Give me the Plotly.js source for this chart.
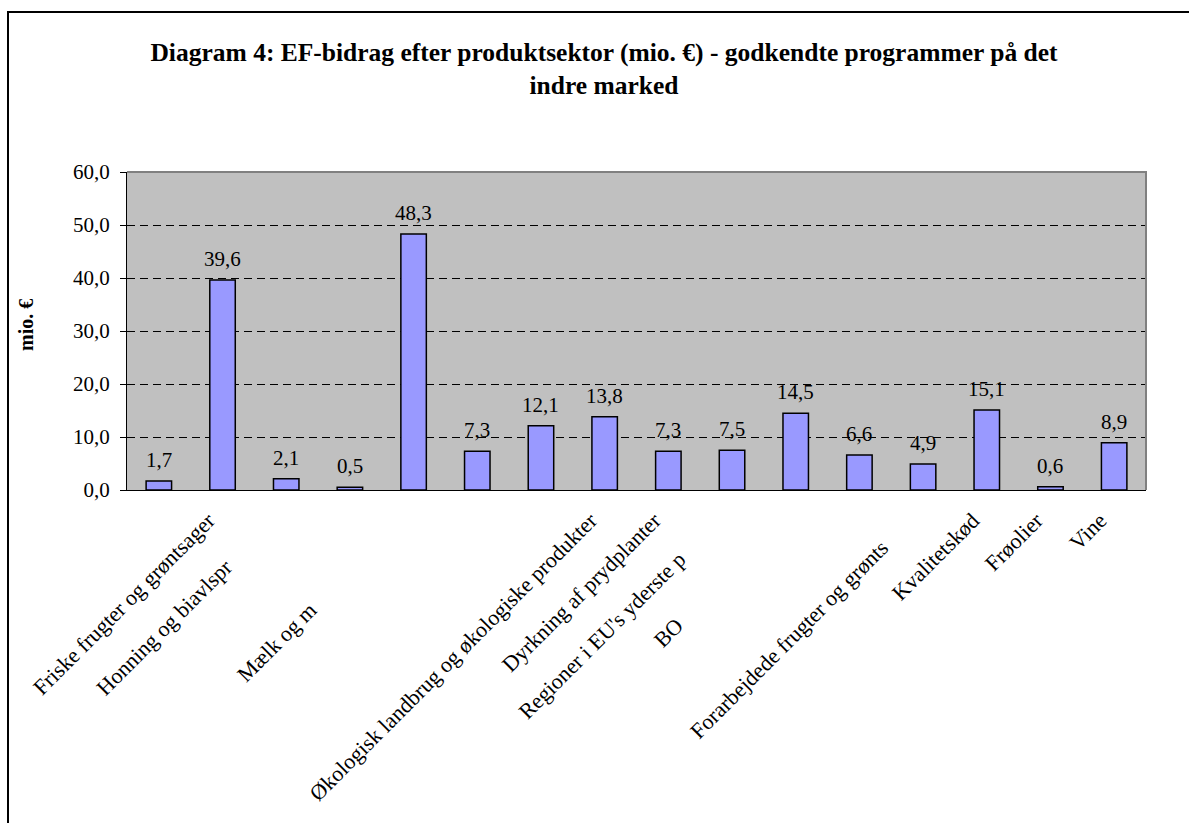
<!DOCTYPE html>
<html><head><meta charset="utf-8">
<script src="https://cdn.plot.ly/plotly-3.0.1.min.js"></script>
<style>html,body{margin:0;padding:0;background:#fff}#chart{width:1189px;height:823px}</style>
</head><body><div id="chart"></div>
<script>
// Tick labels as they are visible in the chart (several are clipped in the original)
const categories = ["", "Friske frugter og grøntsager", "Honning og biavlspr", "", "Mælk og m", "", "", "Økologisk landbrug og økologiske produkter", "Dyrkning af prydplanter", "Regioner i EU's yderste p", "BO", "", "Forarbejdede frugter og grønts", "Kvalitetskød", "Frøolier", "Vine"];
const values = [1.7, 39.6, 2.1, 0.5, 48.3, 7.3, 12.1, 13.8, 7.3, 7.5, 14.5, 6.6, 4.9, 15.1, 0.6, 8.9];
const yTicks = [0, 10, 20, 30, 40, 50, 60];
const titleText = "Diagram 4: EF-bidrag efter produktsektor (mio. €) - godkendte programmer på det<br>indre marked";
const yTitle = "mio. €";
// trailing no-break spaces standing in for the clipped-off part of a label
const labelPad = [0, 0, 12, 0, 23, 0, 0, 0, 0, 10, 27, 0, 7, 0, 0, 0];

const W = 1189, H = 823;
const M = {l: 127, r: 43, t: 172, b: 333};
const pw = W - M.l - M.r, ph = H - M.t - M.b;
const px = v => (v - M.l) / pw;
const py = v => (H - M.b - v) / ph;

const idx = categories.map((_, i) => i);
const bounds = categories.map((_, i) => i - 0.5).concat([categories.length - 0.5]);
const tickText = categories.map((c, i) => c + "\u00a0".repeat(labelPad[i]));
const FONT = "'Liberation Serif', 'Times New Roman', serif";

const trace = {
  type: "bar", x: idx, y: values, width: 0.4,
  marker: {color: "#9999ff", line: {color: "#000", width: 1.5}},
  hoverinfo: "skip", showlegend: false
};

const annotations = values.map((v, i) => ({
  x: i, y: v, xref: "x", yref: "y", showarrow: false,
  text: v.toFixed(1).replace(".", ","), yanchor: "bottom", yshift: 7,
  font: {family: FONT, size: 21, color: "#000"}
}));
annotations.push({
  xref: "paper", yref: "paper", x: px(26), y: py(325), xanchor: "center", yanchor: "middle",
  showarrow: false, textangle: -90, text: "<b>" + yTitle + "</b>",
  font: {family: FONT, size: 20, color: "#000"}
});

const layout = {
  width: W, height: H,
  margin: M,
  paper_bgcolor: "#fff", plot_bgcolor: "#c0c0c0",
  font: {family: FONT, size: 21, color: "#000"},
  separators: ",.",
  title: {text: "<b>" + titleText + "</b>", font: {family: FONT, size: 25.5, color: "#000"},
          xref: "container", yref: "container", x: 604 / W, xanchor: "center", y: 1 - 61 / H, yanchor: "top"},
  xaxis: {range: [-0.5, categories.length - 0.5], tickmode: "array", tickvals: idx, ticktext: tickText,
          tickangle: -45, ticks: "", showgrid: false, zeroline: false, showline: true, linecolor: "#000", linewidth: 1,
          automargin: false, fixedrange: true, ticklabelshift: -14, ticklabelstandoff: 8,
          tickfont: {family: FONT, size: 22, color: "#000"}},
  xaxis2: {overlaying: "x", anchor: "y", side: "bottom", range: [-0.5, categories.length - 0.5], tickmode: "array",
           tickvals: bounds, ticks: "outside", ticklen: 6, tickcolor: "#000", showticklabels: false,
           showgrid: false, zeroline: false, showline: false},
  yaxis: {range: [0, 60], tickmode: "array", tickvals: yTicks, tickformat: ".1f", ticks: "outside", ticklen: 6,
          tickcolor: "#000", showline: true, linecolor: "#000", linewidth: 1, zeroline: false,
          showgrid: true, gridcolor: "#000", gridwidth: 1, griddash: "8px,5px", automargin: false,
          ticklabelstandoff: 6, tickfont: {family: FONT, size: 21, color: "#000"}},
  annotations: annotations,
  shapes: [
    {type: "path", xref: "paper", yref: "paper", path: "M 0,1 L 1,1 L 1,0", line: {color: "#808080", width: 2}, layer: "above"},
    {type: "rect", xref: "paper", yref: "paper", x0: px(8), x1: px(1200), y0: py(840), y1: py(12),
     line: {color: "#000", width: 2}, fillcolor: "rgba(0,0,0,0)", layer: "above"}
  ]
};

Plotly.newPlot("chart", [trace], layout, {displayModeBar: false, staticPlot: true});
</script></body></html>
